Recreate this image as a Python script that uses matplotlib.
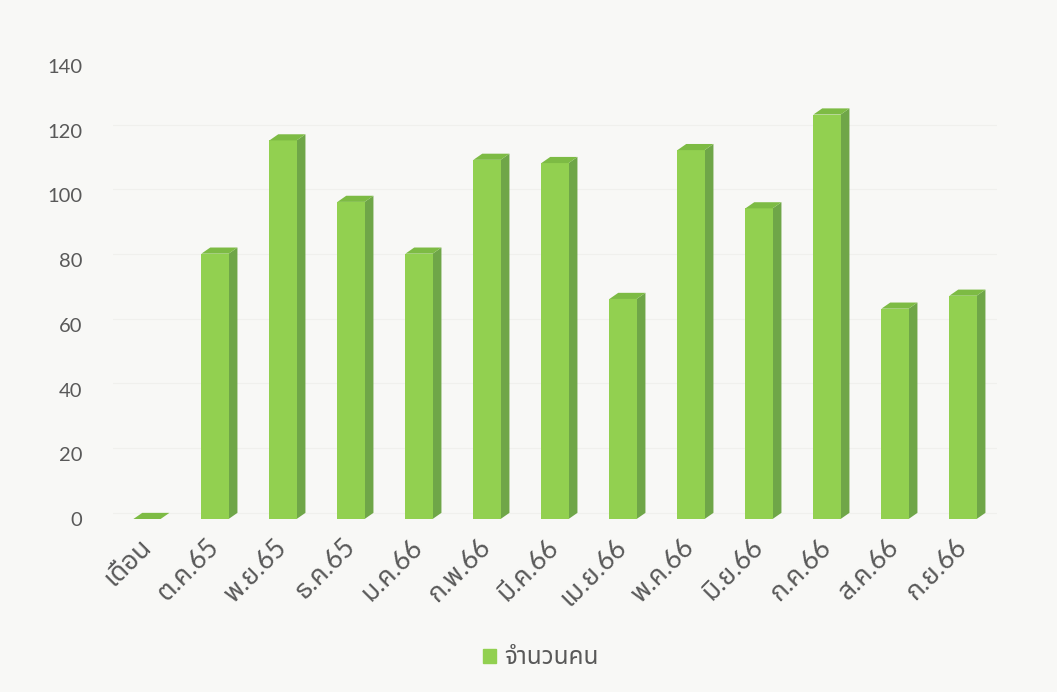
import matplotlib
matplotlib.use("Agg")
import matplotlib.pyplot as plt
import matplotlib.transforms as mtransforms
from matplotlib.patches import Polygon
from matplotlib import font_manager
from matplotlib.ft2font import FT2Font

categories = ["เดือน", "ต.ค.65", "พ.ย.65", "ธ.ค.65", "ม.ค.66", "ก.พ.66", "มี.ค.66",
              "เม.ย.66", "พ.ค.66", "มิ.ย.66", "ก.ค.66", "ส.ค.66", "ก.ย.66"]
values = [0, 82, 117, 98, 82, 111, 110, 68, 114, 96, 125, 65, 69]
yticks = [0, 20, 40, 60, 80, 100, 120, 140]
series_name = "จำนวนคน"

# find fonts that have Thai glyphs
thai_fams = []
for f in font_manager.fontManager.ttflist:
    try:
        cm = FT2Font(f.fname).get_charmap()
        if 0x0E08 in cm and f.name not in thai_fams:
            thai_fams.append(f.name)
    except Exception:
        pass
pref = ["Noto Sans Thai", "Noto Sans Thai UI", "IBM Plex Sans Thai", "Kanit", "Sarabun"]
thai = [p for p in pref if p in thai_fams][:1] or thai_fams[:1]

fams = ["Lato"] + thai + ["DejaVu Sans"]
plt.rcParams['font.family'] = fams

W, H = 1057, 692
fig = plt.figure(figsize=(W / 100, H / 100), dpi=100)
bg = "#f8f8f6"
fig.patch.set_facecolor(bg)
ax = fig.add_axes([113 / W, 1 - 519 / H, (997 - 113) / W, (519 - 66) / H])
ax.set_facecolor(bg)

front_c = "#92d050"
side_c = "#6fa648"
top_c = "#7dbb44"
w = 0.40
dx = 0.13
dy = 1.9

x = list(range(len(categories)))
for gl in yticks:
    ax.axhline(gl + dy, color="#f0f0ed", lw=0.8, zorder=0)

ax.bar(x, values, width=w, color=front_c, zorder=3, label=series_name)
for xi, v in zip(x, values):
    l, r = xi - w / 2, xi + w / 2
    side = Polygon([(r, 0), (r + dx, dy), (r + dx, v + dy), (r, v)],
                   closed=True, facecolor=side_c, edgecolor="none", zorder=2)
    top = Polygon([(l, v), (r, v), (r + dx, v + dy), (l + dx, v + dy)],
                  closed=True, facecolor=top_c, edgecolor="none", zorder=4)
    ax.add_patch(side)
    ax.add_patch(top)

ax.set_xlim(-0.5, len(categories) - 0.5)
ax.set_ylim(0, 140)
ax.set_yticks(yticks)
ax.set_yticklabels([str(t) for t in yticks])
ax.set_xticks(x)
ax.set_xticklabels(categories, rotation=45, ha="right", va="top", rotation_mode="anchor")
ax.tick_params(axis="y", length=0, pad=22, labelsize=14.5, labelcolor="#595959")
ax.tick_params(axis="x", length=0, pad=11, labelsize=19, labelcolor="#595959")
off = mtransforms.ScaledTranslation(-9 / 100, 0, fig.dpi_scale_trans)
for lab in ax.get_xticklabels():
    lab.set_transform(lab.get_transform() + off)
for s in ax.spines.values():
    s.set_visible(False)

leg = fig.legend(handles=[plt.Rectangle((0, 0), 1, 1, color=front_c)], labels=[series_name],
                 loc="center", bbox_to_anchor=(541 / W, 1 - 658 / H), frameon=False,
                 fontsize=17.5, handlelength=0.5, handleheight=0.5, handletextpad=0.35)
for t in leg.get_texts():
    t.set_color("#595959")

fig.savefig("out.png", dpi=100, facecolor=bg)
